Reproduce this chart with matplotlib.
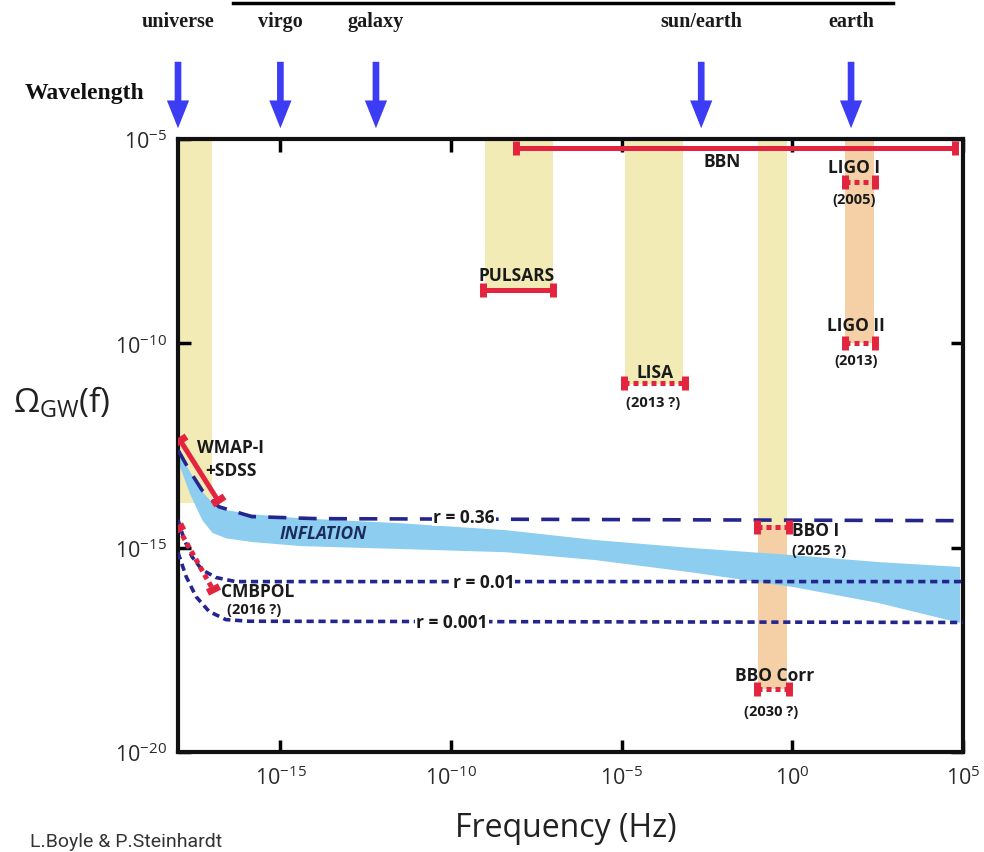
import numpy as np
import matplotlib
matplotlib.use("Agg")
import matplotlib.pyplot as plt
from matplotlib.lines import Line2D
from matplotlib.markers import MarkerStyle
from matplotlib.transforms import Affine2D, blended_transform_factory

# ---------------- data (log10 values) ----------------
# Inflation band (log10 f, upper / lower log10 Omega)
infl_f_exp = [-18.0, -17.67, -17.3, -17.0, -16.6, -15.84, -14.4, -11.5, -8.4, -5.8, -2.9, 0.0, 2.5, 4.9]
infl_hi_exp = [-12.62, -13.12, -13.62, -13.90, -14.07, -14.17, -14.27, -14.39, -14.56, -14.80, -15.00, -15.17, -15.34, -15.46]
infl_lo_exp = [-12.90, -13.66, -14.32, -14.63, -14.76, -14.85, -14.95, -15.02, -15.10, -15.29, -15.60, -15.95, -16.34, -16.83]

# tensor-to-scalar curves
r036_f_exp = [-18.0, -17.67, -17.30, -16.80, -15.84, -13.90, 5.0]
r036_exp = [-12.61, -13.10, -13.59, -14.00, -14.24, -14.29, -14.34]
r001_f_exp = [-18.0, -17.82, -17.59, -17.30, -16.89, -16.31, 5.0]
r001_exp = [-14.32, -14.80, -15.22, -15.54, -15.73, -15.83, -15.83]
r0001_f_exp = [-18.0, -17.76, -17.47, -17.09, -16.60, -15.93, 5.0]
r0001_exp = [-15.12, -15.71, -16.20, -16.56, -16.76, -16.80, -16.83]
r_labels = ["r = 0.36", "r = 0.01", "r = 0.001"]

# shaded frequency bands: (f_lo, f_hi, omega_top, omega_bottom) log10
yellow_bands = [(-18.0, -17.0, -5.0, -13.9),   # CMB
                (-9.0, -7.0, -5.0, -8.7),      # pulsars
                (-4.9, -3.2, -5.0, -11.0),     # LISA
                (-1.02, -0.15, -5.0, -14.45)]  # BBO
orange_bands = [(1.54, 2.38, -5.0, -10.0),     # LIGO
                (-1.02, -0.15, -14.45, -18.46)]  # BBO corr

# solid limits (log10 f1, f2, Omega1, Omega2)
bbn_seg = (-8.1, 4.78, -5.22, -5.22)
pulsar_seg = (-9.05, -7.0, -8.7, -8.7)
wmap_seg = (-17.94, -16.84, -12.37, -13.83)
# projected (dotted) sensitivities
lisa_seg = (-4.94, -3.14, -10.98, -10.98)
ligo1_seg = (1.54, 2.41, -6.05, -6.05)
ligo2_seg = (1.54, 2.41, -10.0, -10.0)
bbo1_seg = (-1.05, -0.09, -14.49, -14.49)
bbocorr_seg = (-1.05, -0.09, -18.46, -18.46)
cmbpol_seg = (-18.0, -16.98, -14.51, -16.02)

# wavelength scale arrows
wave_labels = ["universe", "virgo", "galaxy", "sun/earth", "earth"]
wave_f_exp = [-18.0, -15.0, -12.2, -2.67, 1.72]

xticks_exp = [-15, -10, -5, 0, 5]
yticks_exp = [-20, -15, -10, -5]

# ---------------- styling ----------------
YELLOW = "#f3ebb5"
ORANGE = "#f5cfa6"
BLUE_BAND = "#8ccdf0"
NAVY = "#25258e"
RED = "#e3243f"
ARROW = "#3c3cf5"
SANS = ["Open Sans", "DejaVu Sans"]

plt.rcParams["font.family"] = SANS
plt.rcParams["mathtext.fontset"] = "custom"
plt.rcParams["mathtext.rm"] = "Open Sans"
plt.rcParams["mathtext.sf"] = "Open Sans"

fig = plt.figure(figsize=(9.84, 8.53), dpi=100)
ax = fig.add_axes([178 / 984, 1 - 753 / 853, (963 - 178) / 984, (753 - 140) / 853])
ax.set_xscale("log")
ax.set_yscale("log")
ax.set_xlim(1e-18, 1e5)
ax.set_ylim(1e-20, 1e-5)

p = lambda v: 10.0 ** np.asarray(v, dtype=float)

for (f1, f2, o1, o2) in yellow_bands:
    ax.fill_between([10 ** f1, 10 ** f2], 10 ** o2, 10 ** o1, color=YELLOW, lw=0, zorder=1)
for (f1, f2, o1, o2) in orange_bands:
    ax.fill_between([10 ** f1, 10 ** f2], 10 ** o2, 10 ** o1, color=ORANGE, lw=0, zorder=1)

ax.fill_between(p(infl_f_exp), p(infl_lo_exp), p(infl_hi_exp), color=BLUE_BAND, lw=0, zorder=2)

ax.plot(p(r036_f_exp), p(r036_exp), color=NAVY, lw=2.6, dashes=(5, 3.4), zorder=3)
ax.plot(p(r001_f_exp), p(r001_exp), color=NAVY, lw=2.6, dashes=(2, 1.3), zorder=3)
ax.plot(p(r0001_f_exp), p(r0001_exp), color=NAVY, lw=2.6, dashes=(2, 1.3), zorder=3)

fig.canvas.draw()


def seg(s, dotted=False):
    x = p([s[0], s[1]])
    y = p([s[2], s[3]])
    d = ax.transData.transform(np.column_stack([x, y]))
    ang = np.degrees(np.arctan2(d[1, 1] - d[0, 1], d[1, 0] - d[0, 0]))
    if dotted:
        ax.plot(x, y, color=RED, lw=3.6, dashes=(1.0, 0.8), solid_capstyle="butt", zorder=4)
    else:
        ax.plot(x, y, color=RED, lw=3.6, solid_capstyle="butt", zorder=4)
    m = MarkerStyle("|", transform=Affine2D().rotate_deg(ang))
    ax.plot(x, y, ls="none", marker=m, ms=10, mew=5, color=RED, zorder=4)


for s in [bbn_seg, pulsar_seg, wmap_seg]:
    seg(s)
for s in [lisa_seg, ligo1_seg, ligo2_seg, bbo1_seg, bbocorr_seg, cmbpol_seg]:
    seg(s, dotted=True)

BIG = 12.5
SMALL = 10.5


def lab(fx, oy, s, size=BIG, ha="center", **kw):
    ax.text(10 ** fx, 10 ** oy, s, ha=ha, va="center", fontsize=size, fontweight="bold",
            color="#1a1a1a", zorder=6, **kw)


lab(-2.06, -5.54, "BBN")
lab(1.80, -5.68, "LIGO I")
lab(1.80, -6.46, "(2005)", size=SMALL)
lab(-8.08, -8.34, "PULSARS")
lab(1.86, -9.56, "LIGO II")
lab(1.86, -10.41, "(2013)", size=SMALL)
lab(-4.01, -10.71, "LISA")
lab(-4.07, -11.44, "(2013 ?)", size=SMALL)
lab(-17.44, -12.54, "WMAP-I", ha="left")
lab(-17.21, -13.10, "+SDSS", ha="left")
lab(0.0, -14.56, "BBO I", ha="left")
lab(0.78, -15.05, "(2025 ?)", size=SMALL)
lab(-16.74, -16.05, "CMBPOL", ha="left")
lab(-15.76, -16.51, "(2016 ?)", size=SMALL)
lab(-0.52, -18.12, "BBO Corr")
lab(-0.61, -19.0, "(2030 ?)", size=SMALL)
ax.text(10 ** -13.75, 10 ** -14.63, "INFLATION", ha="center", va="center", fontsize=12.5,
        fontweight="bold", style="italic", color="#1d2b5a", zorder=6)
for (fx, oy), s in zip([(-9.62, -14.24), (-9.04, -15.83), (-9.97, -16.83)], r_labels):
    ax.text(10 ** fx, 10 ** oy, s, ha="center", va="center", fontsize=12.5, fontweight="bold",
            color="#1a1a1a", zorder=6,
            bbox=dict(boxstyle="square,pad=0.05", fc="white", ec="none"))

# axes styling
for sp in ax.spines.values():
    sp.set_linewidth(3)
    sp.set_color("#111111")
ax.set_xticks(p(xticks_exp))
ax.set_yticks(p(yticks_exp))
ax.minorticks_off()
ax.tick_params(which="major", direction="in", length=9, width=2.5, top=True, right=True,
               labelsize=15.5, labelcolor="#2a2a2a", pad=10)
ax.tick_params(axis="y", pad=8)

fig.text(566 / 984, 1 - 829 / 853, "Frequency (Hz)", ha="center", va="center", fontsize=23,
         color="#222222", family=["Open Sans", "DejaVu Sans"])
fig.text(62 / 984, 1 - 402 / 853, r"$\Omega_{\mathsf{GW}}$(f)", ha="center", va="center",
         fontsize=24, color="#222222")
fig.text(30 / 984, 1 - 851 / 853, "L.Boyle & P.Steinhardt", ha="left", va="bottom", fontsize=14,
         color="#333333", family=["Roboto", "DejaVu Sans"])

# wavelength arrows and labels
SERIF = ["Liberation Serif", "DejaVu Serif"]
btr = blended_transform_factory(ax.transData, fig.transFigure)
for fx, s in zip(wave_f_exp, wave_labels):
    ax.annotate("", xy=(10 ** fx, 1 - 132 / 853), xytext=(10 ** fx, 1 - 60 / 853),
                xycoords=btr, textcoords=btr, annotation_clip=False,
                arrowprops=dict(arrowstyle="simple,head_width=1.0,head_length=1.25,tail_width=0.3",
                                mutation_scale=16, color=ARROW, lw=0))
    ax.text(10 ** fx, 1 - 22 / 853, s, transform=btr, ha="center", va="center", fontsize=14.5,
            fontweight="bold", family=SERIF, color="#1a1a1a")
fig.text(85 / 984, 1 - 93 / 853, "Wavelength", ha="center", va="center", fontsize=17,
         fontweight="bold", family=SERIF, color="#111111")
fig.add_artist(Line2D([233 / 984, 893 / 984], [1 - 4 / 853, 1 - 4 / 853], color="black", lw=2.5,
                      transform=fig.transFigure))

fig.savefig("out.png", dpi=100)
